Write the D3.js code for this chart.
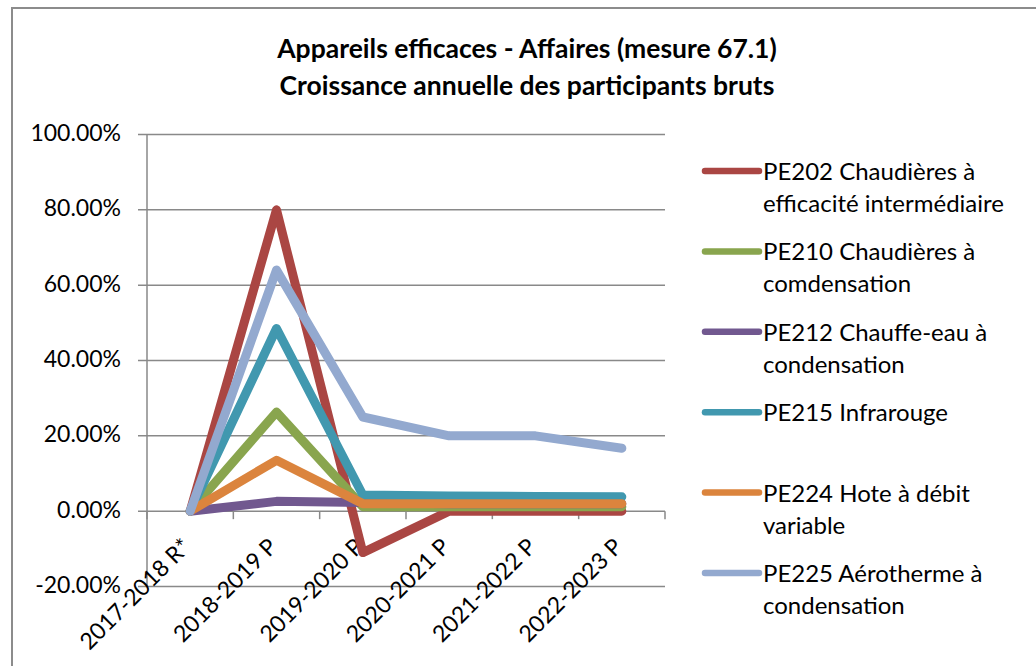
<!DOCTYPE html>
<html>
<head>
<meta charset="utf-8">
<script src="https://cdn.jsdelivr.net/npm/d3@7"></script>
<style>
  body { margin: 0; background: #fff; }
  svg { display: block; font-family: Lato, "Open Sans", sans-serif; }
</style>
</head>
<body>
<svg id="chart" width="1036" height="666"></svg>
<script>
// chart data
var categories = ['2017-2018 R*', '2018-2019 P', '2019-2020 P', '2020-2021 P', '2021-2022 P', '2022-2023 P'];
var pe202 = [0, 0.80, -0.11, 0, 0, 0];
var pe210 = [0, 0.263, 0.012, 0.012, 0.012, 0.012];
var pe212 = [0, 0.026, 0.023, 0.02, 0.02, 0.02];
var pe215 = [0, 0.485, 0.043, 0.04, 0.039, 0.038];
var pe224 = [0, 0.135, 0.02, 0.02, 0.02, 0.02];
var pe225 = [0, 0.64, 0.25, 0.20, 0.20, 0.167];
var yTicks = [-0.2, 0, 0.2, 0.4, 0.6, 0.8, 1.0];

var series = [
  {label: ['PE202 Chaudières à', 'efficacité intermédiaire'], values: pe202, color: '#AA4643'},
  {label: ['PE210 Chaudières à', 'comdensation'], values: pe210, color: '#89A54E'},
  {label: ['PE212 Chauffe-eau à', 'condensation'], values: pe212, color: '#71588F'},
  {label: ['PE215 Infrarouge'], values: pe215, color: '#4198AF'},
  {label: ['PE224 Hote à débit', 'variable'], values: pe224, color: '#DB843D'},
  {label: ['PE225 Aérotherme à', 'condensation'], values: pe225, color: '#93A9CF'}
];

var svg = d3.select('#chart');
var plot = {left: 147, right: 665, top: 134.5, bottom: 586.5};

// outer chart border (top + left only visible in the crop)
svg.append('path')
  .attr('d', 'M 12,666 L12,8 L1036,8')
  .attr('fill', 'none')
  .attr('stroke', '#8c8c8c')
  .attr('stroke-width', 2);

// title
var title = svg.append('text')
  .attr('text-anchor', 'middle')
  .attr('font-weight', 'bold')
  .attr('font-size', 26.5)
  .attr('fill', '#000');
title.append('tspan').attr('x', 527).attr('y', 58).text('Appareils efficaces - Affaires (mesure 67.1)');
title.append('tspan').attr('x', 527).attr('y', 95).text('Croissance annuelle des participants bruts');

var x = d3.scaleBand().domain(categories).range([plot.left, plot.right]);
var y = d3.scaleLinear().domain([-0.2, 1.0]).range([plot.bottom, plot.top]);

// gridlines
svg.append('g').selectAll('line').data(yTicks).enter().append('line')
  .attr('x1', plot.left - 9).attr('x2', plot.right)
  .attr('y1', d => y(d)).attr('y2', d => y(d))
  .attr('stroke', '#898989').attr('stroke-width', 1.5);

// y axis line
svg.append('line')
  .attr('x1', plot.left).attr('x2', plot.left)
  .attr('y1', plot.top).attr('y2', plot.bottom)
  .attr('stroke', '#898989').attr('stroke-width', 1.5);

// y labels (plain hyphen for negatives, like the original)
svg.append('g').selectAll('text').data(yTicks).enter().append('text')
  .attr('x', 121).attr('y', d => y(d) + 6.5)
  .attr('text-anchor', 'end')
  .attr('font-size', 23)
  .text(d => d3.format('.2f')(d * 100).replace('\u2212', '-') + '%');

// x axis tick marks (category boundaries) hanging below the zero line
var bounds = categories.map(c => x(c)).concat([plot.right]);
svg.append('g').selectAll('line').data(bounds).enter().append('line')
  .attr('x1', d => d).attr('x2', d => d)
  .attr('y1', y(0)).attr('y2', y(0) + 8)
  .attr('stroke', '#898989').attr('stroke-width', 1.5);

// x labels, rotated
svg.append('g').selectAll('text').data(categories).enter().append('text')
  .attr('transform', d => 'translate(' + (x(d) + x.bandwidth() / 2 + 2) + ',' + (y(0) + 37) + ') rotate(-45)')
  .attr('text-anchor', 'end')
  .attr('font-size', 23)
  .text(d => d);

// series lines
var line = d3.line()
  .x((d, i) => x(categories[i]) + x.bandwidth() / 2)
  .y(d => y(d));

svg.append('g').selectAll('path').data(series).enter().append('path')
  .attr('d', d => line(d.values))
  .attr('fill', 'none')
  .attr('stroke', d => d.color)
  .attr('stroke-width', 9)
  .attr('stroke-linejoin', 'round')
  .attr('stroke-linecap', 'round');

// legend
var legend = svg.append('g').selectAll('g').data(series).enter().append('g')
  .attr('transform', (d, i) => 'translate(0,' + (171 + i * 80.4) + ')');
legend.append('line')
  .attr('x1', 705).attr('x2', 759)
  .attr('stroke', d => d.color)
  .attr('stroke-width', 6.5)
  .attr('stroke-linecap', 'round');
legend.append('text')
  .attr('font-size', 24)
  .each(function(d) {
    var t = d3.select(this);
    d.label.forEach((s, j) => {
      t.append('tspan').attr('x', 763).attr('y', 9 + j * 32).text(s);
    });
  });
</script>
</body>
</html>
